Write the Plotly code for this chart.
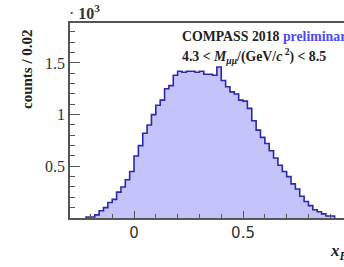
import plotly.graph_objects as go

# histogram of x_F, bin width 0.02, counts in units of 10^3
bin_low_edges = [-0.22, -0.20, -0.18, -0.16, -0.14, -0.12, -0.10, -0.08, -0.06, -0.04,
                 -0.02, 0.00, 0.02, 0.04, 0.06, 0.08, 0.10, 0.12, 0.14, 0.16,
                 0.18, 0.20, 0.22, 0.24, 0.26, 0.28, 0.30, 0.32, 0.34, 0.36,
                 0.38, 0.40, 0.42, 0.44, 0.46, 0.48, 0.50, 0.52, 0.54, 0.56,
                 0.58, 0.60, 0.62, 0.64, 0.66, 0.68, 0.70, 0.72, 0.74, 0.76,
                 0.78, 0.80, 0.82, 0.84, 0.86, 0.88, 0.90]
bin_width = 0.02
counts = [0.01, 0.01, 0.03, 0.07, 0.10, 0.15, 0.18, 0.25, 0.30, 0.37,
          0.45, 0.60, 0.70, 0.82, 0.90, 1.00, 1.09, 1.14, 1.25, 1.28,
          1.38, 1.42, 1.41, 1.42, 1.42, 1.41, 1.42, 1.39, 1.39, 1.38,
          1.46, 1.33, 1.27, 1.22, 1.20, 1.14, 1.13, 1.06, 0.94, 0.85,
          0.78, 0.72, 0.65, 0.58, 0.51, 0.45, 0.40, 0.33, 0.28, 0.21,
          0.16, 0.12, 0.08, 0.06, 0.04, 0.02, 0.02]

y_tick_vals = [0.5, 1, 1.5]
y_tick_text = ["0.5", "1", "1.5"]
x_tick_vals = [0, 0.5]
x_tick_text = ["0", "0.5"]

# step outline
xs = [bin_low_edges[0]] + bin_low_edges + [bin_low_edges[-1] + bin_width, bin_low_edges[-1] + bin_width]
ys = [0] + counts + [counts[-1], 0]

SERIF = "Liberation Serif, Times New Roman, serif"
AX = "#555555"

fig = go.Figure()
fig.add_trace(go.Scatter(
    x=xs, y=ys, mode="lines", line_shape="hv",
    line=dict(color="#2a2aa8", width=1.6),
    fill="tozeroy", fillcolor="#c4c4fb", showlegend=False, hoverinfo="skip"))

L, T, B, W, H = 70, 23, 49, 344, 267
PW, PH = W - L, H - T - B

def px(x):
    return (x - L) / PW

def py(y):
    return (H - B - y) / PH

fig.update_layout(
    width=W, height=H,
    margin=dict(l=L, r=0, t=T, b=B, autoexpand=False),
    paper_bgcolor="white", plot_bgcolor="white",
    font=dict(family=SERIF, color="#222222", size=15),
    xaxis=dict(range=[-0.2936, 0.963], showgrid=False, zeroline=False, automargin=False,
               tickvals=x_tick_vals, ticktext=x_tick_text,
               ticks="inside", ticklen=7, tickwidth=1.2, tickcolor=AX,
               minor=dict(dtick=0.1, tick0=0, ticks="inside", ticklen=4, tickcolor=AX, tickwidth=1.2),
               showline=True, linecolor=AX, linewidth=1.5, mirror=True,
               tickfont=dict(size=15, family="DejaVu Sans", color="#333333")),
    yaxis=dict(range=[0, 1.886], showgrid=False, zeroline=False, automargin=False,
               tickvals=y_tick_vals, ticktext=y_tick_text,
               ticks="inside", ticklen=10, tickwidth=1.2, tickcolor=AX,
               minor=dict(dtick=0.1, tick0=0, ticks="inside", ticklen=5, tickcolor=AX, tickwidth=1.2),
               showline=True, linecolor=AX, linewidth=1.5, mirror=True,
               tickfont=dict(size=16, family=SERIF, color="#333333")),
    annotations=[
        dict(text="· <b>10<sup>3</sup></b>", xref="paper", yref="paper", x=px(67), y=py(24),
             xanchor="left", yanchor="bottom", showarrow=False,
             font=dict(size=16, family=SERIF, color="#333333")),
        dict(text="<b>counts / 0.02</b>", xref="paper", yref="paper", x=px(27), y=py(27),
             xanchor="center", yanchor="top", textangle=-90, showarrow=False,
             font=dict(size=15, family=SERIF, color="#222222")),
        dict(text="<b><i>x</i></b><sub><b><i>F</i></b></sub>", xref="paper", yref="paper",
             x=px(328), y=py(252), xanchor="left", yanchor="middle", showarrow=False,
             font=dict(size=17, family=SERIF, color="#222222")),
        dict(text="<b>COMPASS 2018</b> <b><span style='color:#4b4bf0'>preliminary</span></b>",
             xref="paper", yref="paper", x=px(180), y=py(27), xanchor="left", yanchor="top",
             showarrow=False, font=dict(size=13.8, family=SERIF, color="#222222")),
        dict(text="<b>4.3 &lt; <i>M</i><sub><i>μμ</i></sub>/(GeV/<i>c</i><sup> 2</sup>) &lt; 8.5</b>",
             xref="paper", yref="paper", x=px(180), y=py(44), xanchor="left", yanchor="top",
             showarrow=False, font=dict(size=13.8, family=SERIF, color="#222222")),
    ],
)

fig.write_html("out.html", config={"displayModeBar": False},
               post_script="document.body.style.margin='0px';")
